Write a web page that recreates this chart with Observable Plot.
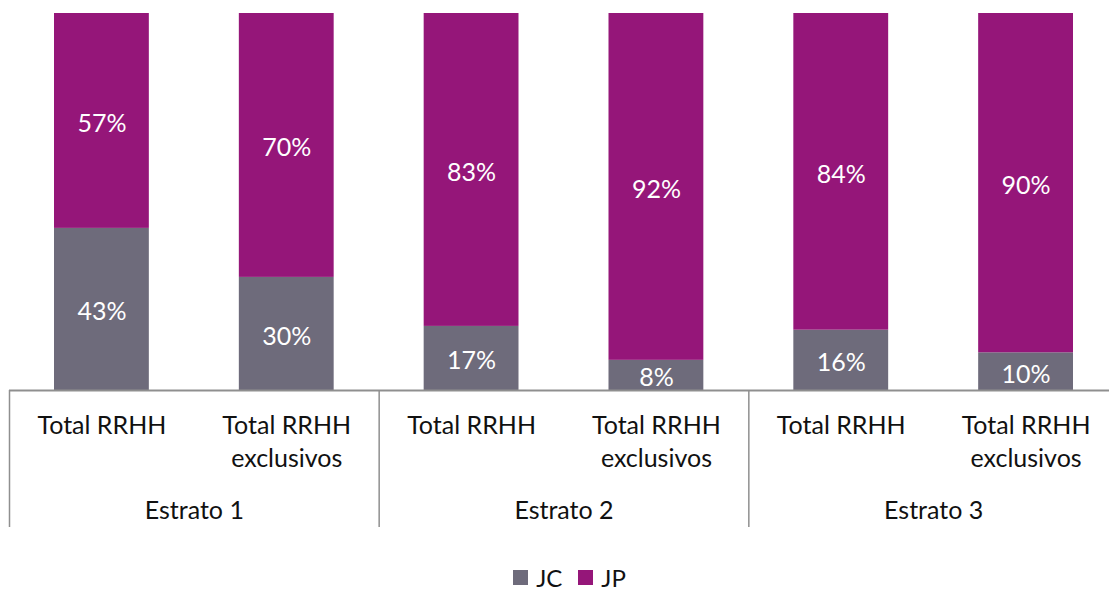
<!DOCTYPE html>
<html>
<head>
<meta charset="utf-8">
<script src="https://cdn.jsdelivr.net/npm/d3@7"></script>
<script src="https://cdn.jsdelivr.net/npm/@observablehq/plot@0.6"></script>
<style>
  body { margin: 0; background: #fff; font-family: "Lato", "Open Sans", sans-serif; }
  #legend { display: flex; justify-content: center; align-items: center; gap: 16px; padding-left: 30px; padding-top: 20px; height: 25px; font-size: 24px; color: #111; }
  .item { display: flex; align-items: center; gap: 8px; }
  .sw { width: 15px; height: 15px; display: inline-block; }
</style>
</head>
<body>
<div id="chart"></div>
<div id="legend"></div>
<script>
const groups = ["Estrato 1", "Estrato 2", "Estrato 3"];
const categories = ["Total RRHH", "Total RRHH\nexclusivos", "Total RRHH", "Total RRHH\nexclusivos", "Total RRHH", "Total RRHH\nexclusivos"];
const jc = [43, 30, 17, 8, 16, 10];
const jp = [57, 70, 83, 92, 84, 90];
const series = ["JC", "JP"];
const colors = ["#6E6B7B", "#951679"];

const rows = [];
categories.forEach((c, i) => {
  let base = 0;
  [["JC", jc[i]], ["JP", jp[i]]].forEach(([s, v]) => {
    rows.push({i, series: s, value: v, y1: base / 100, y2: (base + v) / 100});
    base += v;
  });
});
const catRows = categories.map((c, i) => ({i, label: c}));
const groupRows = groups.map((g, k) => ({k, label: g}));

const chart = Plot.plot({
  width: 1109,
  height: 545,
  marginLeft: 9,
  marginRight: 0,
  marginTop: 13,
  marginBottom: 18,
  style: {fontFamily: "Lato, 'Open Sans', sans-serif", background: "#fff"},
  x: {type: "linear", domain: [0, 6], range: [9, 1118], axis: null},
  y: {domain: [0, 1], range: [390, 13], axis: null},
  color: {domain: series, range: colors},
  marks: [
    Plot.rectY(rows, {x1: d => d.i, x2: d => d.i + 1, y1: "y1", y2: "y2", fill: "series", insetLeft: 45, insetRight: 45}),
    Plot.text(rows, {x: d => d.i + 0.5, y: d => (d.y1 + d.y2) / 2, text: d => d.value + "%", fill: "white", fontSize: 25, dy: 3}),
    Plot.ruleY([0], {stroke: "#8f8f8f", strokeWidth: 2}),
    Plot.ruleX([0, 2, 4, 6], {x: d => d, stroke: "#8f8f8f", strokeWidth: 1.5, insetTop: 377}),
    Plot.text(catRows, {x: d => d.i + 0.5, y: () => 0, text: "label", lineAnchor: "top", dy: 20, lineHeight: 1.32, fontSize: 25, fill: "#111"}),
    Plot.text(groupRows, {x: d => d.k * 2 + 1, y: () => 0, text: "label", lineAnchor: "middle", dy: 120, fontSize: 25, fill: "#111"})
  ]
});
document.getElementById("chart").appendChild(chart);

const legend = document.getElementById("legend");
series.forEach((s, k) => {
  const it = document.createElement("span");
  it.className = "item";
  it.innerHTML = `<span class="sw" style="background:${colors[k]}"></span><span>${s}</span>`;
  legend.appendChild(it);
});
</script>
</body>
</html>
